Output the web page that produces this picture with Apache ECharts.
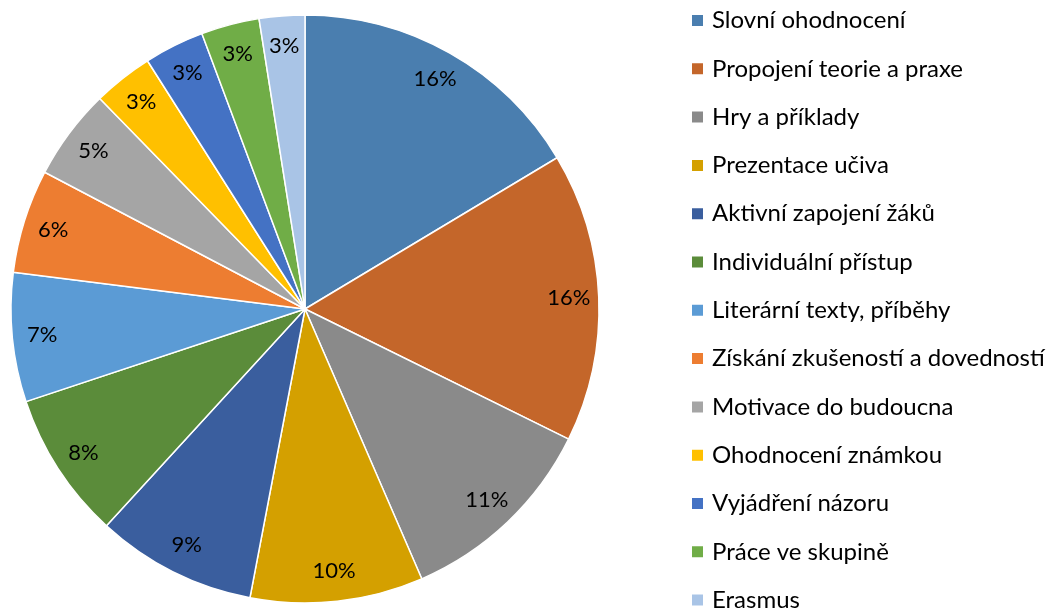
<!DOCTYPE html>
<html><head><meta charset="utf-8">
<script src="https://cdn.jsdelivr.net/npm/echarts@6/dist/echarts.min.js"></script>
<style>html,body{margin:0;padding:0;background:#fff}#c{width:1052px;height:609px}</style>
</head><body><div id="c"></div>
<script>
const categories = ["Slovní ohodnocení","Propojení teorie a praxe","Hry a příklady","Prezentace učiva","Aktivní zapojení žáků","Individuální přístup","Literární texty, příběhy","Získání zkušeností a dovedností","Motivace do budoucna","Ohodnocení známkou","Vyjádření názoru","Práce ve skupině","Erasmus"];
const values = [16.4,15.9,11.2,9.5,8.8,8.1,7.1,5.7,5.0,3.3,3.3,3.2,2.5];
const colors = ["#4a7eaf","#c4662a","#8a8a8a","#d4a000","#3a5e9e","#5b8c3a","#5b9bd5","#ed7d31","#a5a5a5","#ffc000","#4472c4","#70ad47","#a9c4e6"];

const total = values.reduce((a,b)=>a+b,0);
const data = categories.map((n,i)=>({name:n,value:values[i],itemStyle:{color:colors[i]}}));
const chart = echarts.init(document.getElementById('c'));
const FONT = 'Lato, "Open Sans", sans-serif';
chart.setOption({
  animation:false,
  legend:{
    orient:'vertical', left:685, top:0, height:700, padding:[7,0,0,5],
    icon:'rect', itemWidth:13, itemHeight:13, itemGap:21.3,
    textStyle:{fontFamily:FONT,fontSize:24,color:'#000',lineHeight:27,padding:[0,0,0,3]},
    data:categories
  },
  series:[{
    type:'pie', center:[305,309], radius:[0,294], startAngle:90, clockwise:true,
    avoidLabelOverlap:false,
    itemStyle:{borderColor:'#fff',borderWidth:1.5},
    label:{show:false}, labelLine:{show:false},
    data:data
  },{
    type:'pie', center:[305,309], radius:[228,294], startAngle:90, clockwise:true,
    silent:true, avoidLabelOverlap:false,
    itemStyle:{color:'rgba(0,0,0,0)',borderWidth:0},
    label:{show:true,position:'inside',fontFamily:FONT,fontSize:22,color:'#000',
      formatter:p=>Math.round(p.value/total*100)+'%'},
    labelLine:{show:false},
    data:categories.map((n,i)=>({name:n,value:values[i]}))
  }]
});
</script></body></html>
